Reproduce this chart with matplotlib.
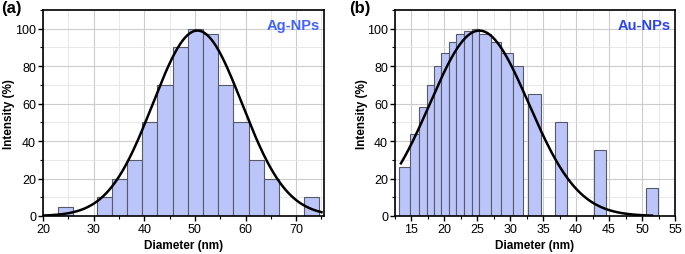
import numpy as np
import matplotlib
matplotlib.use("Agg")
import matplotlib.pyplot as plt
from matplotlib.ticker import MultipleLocator

plt.rcParams['font.family'] = ['Liberation Sans', 'DejaVu Sans']

# (a) Ag-NPs histogram: bin edges and intensities
ag_left = [22.9, 30.6, 33.6, 36.6, 39.6, 42.6, 45.6, 48.6, 51.6, 54.6, 57.6, 60.6, 63.6, 71.6]
ag_right = [25.9, 33.6, 36.6, 39.6, 42.6, 45.6, 48.6, 51.6, 54.6, 57.6, 60.6, 63.6, 66.6, 74.6]
ag_height = [5, 10, 20, 30, 50, 70, 90, 100, 97, 70, 50, 30, 20, 10]
ag_fit = dict(amp=99, mu=50.5, sigma=8.8, start=20, stop=75)

# (b) Au-NPs histogram
au_left = [13.07, 14.75, 16.1, 17.3, 18.4, 19.5, 20.65, 21.8, 22.9, 24.2, 25.3, 27.1, 28.6, 30.4,
           32.7, 36.8, 42.7, 50.6]
au_right = [14.75, 16.1, 17.3, 18.4, 19.5, 20.65, 21.8, 22.9, 24.2, 25.3, 27.1, 28.6, 30.4, 32.0,
            34.6, 38.6, 44.5, 52.4]
au_height = [26, 44, 58, 70, 80, 87, 93, 97, 99, 100, 97, 93, 87, 80, 65, 50, 35, 15]
au_fit = dict(amp=99, mu=25.3, sigma=7.5, start=13.4, stop=51.5)

bar_color = '#bcc5fa'
edge_color = '#555a66'


def gauss(x, amp, mu, sigma):
    return amp * np.exp(-(x - mu) ** 2 / (2 * sigma ** 2))


def draw_panel(ax, left, right, height, fit, xlim, xmajor, xminor, name, name_color):
    left = np.array(left)
    right = np.array(right)
    ax.bar(left, height, width=right - left, align='edge', color=bar_color,
           edgecolor=edge_color, linewidth=0.8, zorder=2)
    x = np.linspace(fit['start'], fit['stop'], 400)
    ax.plot(x, gauss(x, fit['amp'], fit['mu'], fit['sigma']), color='black', lw=1.8, zorder=3)

    ax.set_xlim(*xlim)
    ax.set_ylim(0, 110)
    ax.xaxis.set_major_locator(MultipleLocator(xmajor))
    ax.xaxis.set_minor_locator(MultipleLocator(xminor))
    ax.yaxis.set_major_locator(MultipleLocator(20))
    ax.yaxis.set_minor_locator(MultipleLocator(10))
    ax.grid(which='major', color='#cccccc', lw=0.8, zorder=0)
    ax.grid(which='minor', color='#e4e4e4', lw=0.6, zorder=0)
    ax.set_axisbelow(True)
    ax.tick_params(which='major', direction='out', length=3.5, width=1, labelsize=9, pad=1.5)
    ax.tick_params(which='minor', direction='out', length=2, width=0.8)
    for s in ax.spines.values():
        s.set_linewidth(1.2)
    ax.set_xlabel('Diameter (nm)', fontsize=8.5, fontweight='bold', labelpad=3)
    ax.set_ylabel('Intensity (%)', fontsize=8.5, fontweight='bold')
    ax.yaxis.set_label_coords(-0.098, 0.5)
    ax.text(0.985, 0.96, name, transform=ax.transAxes, ha='right', va='top',
            color=name_color, fontsize=10.5, fontweight='bold')


fig = plt.figure(figsize=(6.85, 2.55), dpi=100)
ax1 = fig.add_axes([43 / 685, 1 - 217 / 255, 281 / 685, 206 / 255])
ax2 = fig.add_axes([395 / 685, 1 - 217 / 255, 280 / 685, 206 / 255])

draw_panel(ax1, ag_left, ag_right, ag_height, ag_fit, (20, 75.5), 10, 5, 'Ag-NPs', '#4262ff')
draw_panel(ax2, au_left, au_right, au_height, au_fit, (12.5, 55), 5, 2.5, 'Au-NPs', '#2c44ee')

fig.text(1 / 685, 1 - 1 / 255, '(a)', fontsize=12, fontweight='bold', va='top', ha='left')
fig.text(349 / 685, 1 - 1 / 255, '(b)', fontsize=12, fontweight='bold', va='top', ha='left')

fig.savefig('out.png', dpi=100)
